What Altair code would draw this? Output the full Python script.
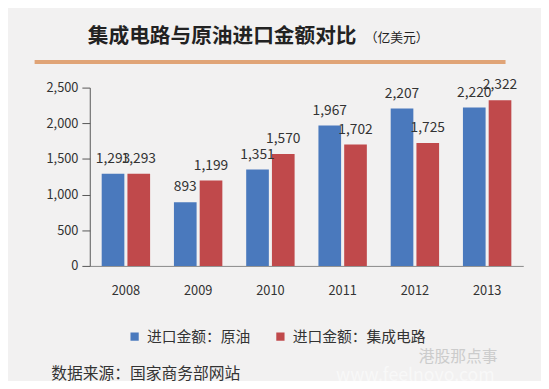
import altair as alt
import pandas as pd

years = ["2008", "2009", "2010", "2011", "2012", "2013"]
crude = [1293, 893, 1351, 1967, 2207, 2220]
ic = [1293, 1199, 1570, 1702, 1725, 2322]
series = ["进口金额：原油", "进口金额：集成电路"]
colors = ["#4a79bd", "#c0494b"]
y_ticks = [0, 500, 1000, 1500, 2000, 2500]

rows = []
for i, y in enumerate(years):
    rows.append({"year": y, "series": series[0], "value": crude[i], "label": f"{crude[i]:,}"})
    rows.append({"year": y, "series": series[1], "value": ic[i], "label": f"{ic[i]:,}"})
df = pd.DataFrame(rows)

FONT = "Noto Sans CJK SC"

base = alt.Chart(df).encode(
    x=alt.X("year:N", title=None, sort=years,
            scale=alt.Scale(paddingInner=0.33, paddingOuter=0.165),
            axis=alt.Axis(labelAngle=0, ticks=False, labelPadding=19, labelFontSize=13,
                          labelColor="#333333", domainColor="#888888", labelFont=FONT)),
    xOffset=alt.XOffset("series:N", sort=series, scale=alt.Scale(paddingInner=0.12)),
    y=alt.Y("value:Q", title=None,
            scale=alt.Scale(domain=[0, 2500]),
            axis=alt.Axis(values=y_ticks, format=",.0f", grid=False,
                          tickSize=8, tickColor="#555555", domainColor="#555555",
                          labelFontSize=13, labelColor="#333333", labelPadding=4, labelFont=FONT)),
)

bars = base.mark_bar().encode(
    color=alt.Color("series:N", sort=series,
                    scale=alt.Scale(domain=series, range=colors),
                    legend=alt.Legend(title=None, orient="none", legendX=38, legendY=245,
                                      direction="horizontal", symbolType="square", symbolSize=70,
                                      symbolStrokeWidth=0, labelFontSize=15, labelFont=FONT,
                                      labelColor="#333333", columnPadding=22, labelOffset=5,
                                      labelLimit=300)),
)

labels = base.mark_text(baseline="alphabetic", dy=-11, fontSize=14, color="#333333", font=FONT).encode(
    text="label:N",
)

title_df = pd.DataFrame({"t": ["集成电路与原油进口金额对比"]})
title = alt.Chart(title_df).mark_text(align="left", baseline="middle", fontSize=21, fontWeight="bold",
                                      font=FONT, color="#222222").encode(
    x=alt.value(-2), y=alt.value(-51), text="t:N")
sub_df = pd.DataFrame({"t": ["（亿美元）"]})
subtitle = alt.Chart(sub_df).mark_text(align="left", baseline="middle", fontSize=13,
                                       font=FONT, color="#222222").encode(
    x=alt.value(279), y=alt.value(-50), text="t:N")

rule = alt.Chart(title_df).mark_rule(color="#e0a477", strokeWidth=4).encode(
    x=alt.value(-56), x2=alt.value(422), y=alt.value(-26))

src_df = pd.DataFrame({"t": ["数据来源：国家商务部网站"]})
source = alt.Chart(src_df).mark_text(align="left", baseline="middle", fontSize=16,
                                     font=FONT, color="#333333").encode(
    x=alt.value(-39), y=alt.value(291), text="t:N")

wm_df = pd.DataFrame({"t": ["港股那点事"]})
wm = alt.Chart(wm_df).mark_text(align="left", baseline="middle", fontSize=16,
                                font=FONT, color="#cccccc").encode(
    x=alt.value(334), y=alt.value(274), text="t:N")
wm2_df = pd.DataFrame({"t": ["www.feelnovo.com"]})
wm2 = alt.Chart(wm2_df).mark_text(align="left", baseline="middle", fontSize=18,
                                  font=FONT, color="#f8f8f8").encode(
    x=alt.value(250), y=alt.value(293), text="t:N")

chart = alt.layer(rule, title, subtitle, bars, labels, source, wm, wm2).properties(
    width=440, height=181,
    background="#f2f1f1",
    padding={"left": 83, "top": 78, "right": 18, "bottom": 114},
    autosize=alt.AutoSizeParams(type="none"),
).configure_view(stroke=None)

chart.save("out.html", embed_options={"renderer": "svg", "actions": False})
